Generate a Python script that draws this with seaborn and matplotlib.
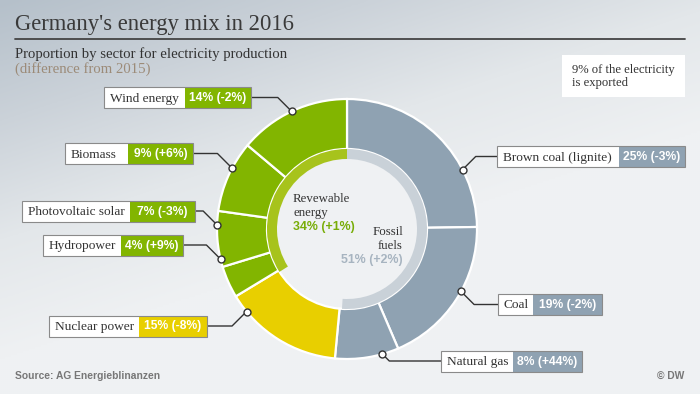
import numpy as np
import matplotlib
matplotlib.use("Agg")
import matplotlib.pyplot as plt
import seaborn as sns
from matplotlib.patches import Rectangle, Circle

# ---------------- data ----------------
sources = ["Brown coal (lignite)", "Coal", "Natural gas", "Nuclear power",
           "Hydropower", "Photovoltaic solar", "Biomass", "Wind energy"]
shares = [25, 19, 8, 15, 4, 7, 9, 14]
changes = [-3, -2, 44, -8, 9, -3, 6, -2]
groups = ["fossil", "fossil", "fossil", "nuclear",
          "renewable", "renewable", "renewable", "renewable"]

group_keys = ["fossil", "nuclear", "renewable"]
group_shares = [51, 15, 34]
group_changes = [2, -8, 1]

# ---------------- style ----------------
sns.set_theme(style="white")
plt.rcParams["font.family"] = ["DejaVu Sans"]

W, H = 700, 394
SERIF = "Liberation Serif"
SANS = "Liberation Sans"

outer_col = {"fossil": "#8fa2b2", "nuclear": "#e8cf00", "renewable": "#82b500"}
inner_col = {"fossil": "#c9d1d8", "nuclear": "none", "renewable": "#a7c31c"}
text_col = {"fossil": "#a7b4c0", "renewable": "#78ad08"}

fig = plt.figure(figsize=(W / 100, H / 100), dpi=100)

# background gradient
ax_bg = fig.add_axes([0, 0, 1, 1])
ax_bg.set_xlim(0, W)
ax_bg.set_ylim(H, 0)
ax_bg.axis("off")
xs = np.linspace(0, W, 350)
ys = np.linspace(0, H, 197)
X, Y = np.meshgrid(xs, ys)
u = np.clip(X / 1100 + Y / 360, 0, 1)
cmap = sns.blend_palette(["#b5c0ca", "#cbd2d9", "#e3e7ea", "#eff1f3"], as_cmap=True)
ax_bg.imshow(u, extent=(0, W, H, 0), cmap=cmap, aspect="auto", interpolation="bilinear")

# ---------------- donut ----------------
cx, cy, R = 347, 229, 130
ax_pie = fig.add_axes([(cx - R) / W, (H - cy - R) / H, 2 * R / W, 2 * R / H])
ax_pie.pie(shares, colors=[outer_col[g] for g in groups], startangle=90,
           counterclock=False, radius=1.0,
           wedgeprops=dict(width=50 / R, edgecolor="white", linewidth=1.6))
ax_pie.pie(group_shares, colors=[inner_col[g] for g in group_keys], startangle=90,
           counterclock=False, radius=80 / R,
           wedgeprops=dict(width=10 / R, linewidth=0))
ax_pie.add_patch(Circle((0, 0), 70 / R, color="#eff1f3", zorder=0))
ax_pie.set_xlim(-1, 1)
ax_pie.set_ylim(-1, 1)
ax_pie.set_aspect("equal")
ax_pie.axis("off")

# ---------------- overlay ----------------
ax = fig.add_axes([0, 0, 1, 1])
ax.set_xlim(0, W)
ax.set_ylim(H, 0)
ax.axis("off")
ax.patch.set_alpha(0)

# title
ax.text(15, 30, "Germany's energy mix in 2016", family=SERIF, fontsize=16.3,
        color="#3a3a3a", va="baseline", ha="left")
ax.plot([15, 685], [39, 39], color="#444444", lw=1.3)
ax.text(15, 58, "Proportion by sector for electricity production", family=SERIF,
        fontsize=10.6, color="#333333", va="baseline")
ax.text(15, 73, "(difference from 2015)", family=SERIF, fontsize=10.6,
        color="#9c8b78", va="baseline")

# export note
ax.add_patch(Rectangle((562, 55), 123, 42, facecolor="white", edgecolor="none"))
ax.text(572, 70, "9% of the electricity", family=SERIF, fontsize=9.1,
        color="#333333", va="center")
ax.text(572, 83, "is exported", family=SERIF, fontsize=9.1,
        color="#333333", va="center")

# centre labels
ax.text(293, 199, "Revewable", family=SERIF, fontsize=9.3, color="#333333", va="center")
ax.text(293, 213, "energy", family=SERIF, fontsize=9.3, color="#333333", va="center")
ax.text(293, 227, f"{group_shares[2]}% ({group_changes[2]:+d}%)", family=SANS,
        fontsize=8.9, weight="bold", color=text_col["renewable"], va="center")
ax.text(403, 232, "Fossil", family=SERIF, fontsize=9.3, color="#333333",
        va="center", ha="right")
ax.text(403, 246, "fuels", family=SERIF, fontsize=9.3, color="#333333",
        va="center", ha="right")
ax.text(403, 260, f"{group_shares[0]}% ({group_changes[0]:+d}%)", family=SANS,
        fontsize=8.9, weight="bold", color=text_col["fossil"], va="center", ha="right")

# label boxes: (left, split, right, y-centre, anchor angle clockwise from top)
layout = {
    "Brown coal (lignite)": (497, 619, 685, 156.5, 62.8),
    "Coal": (498, 533, 602, 304.5, 118.7),
    "Natural gas": (441, 513, 582, 361.0, 164.2),
    "Nuclear power": (49, 139, 207, 326.0, 230.6),
    "Hydropower": (43, 121, 183, 245.0, 256.6),
    "Photovoltaic solar": (22, 130, 195, 211.0, 271.8),
    "Biomass": (65, 128, 193, 153.5, 297.9),
    "Wind energy": (104, 185, 251, 97.5, 334.8),
}

to_ov = ax.transData.inverted()
fig.canvas.draw()
for name, share, chg, grp in zip(sources, shares, changes, groups):
    left, split, right, yc, ang = layout[name]
    h = 21
    ax.add_patch(Rectangle((left, yc - h / 2), split - left, h, facecolor="white",
                           edgecolor="none", zorder=3))
    ax.add_patch(Rectangle((split, yc - h / 2), right - split, h,
                           facecolor=outer_col[grp], edgecolor="none", zorder=3))
    ax.add_patch(Rectangle((left, yc - h / 2), right - left, h, facecolor="none",
                           edgecolor="#8a8a8a", lw=0.8, zorder=4))
    ax.text(left + 6, yc + 1, name, family=SERIF, fontsize=9.6, color="#333333",
            va="center", ha="left", zorder=5)
    ax.text((split + right) / 2, yc + 0.5, f"{share}% ({chg:+d}%)", family=SANS,
            fontsize=8.7, weight="bold", color="white", va="center", ha="center",
            zorder=5)
    # anchor on outer edge of donut
    t = np.deg2rad(ang)
    disp = ax_pie.transData.transform((np.sin(t), np.cos(t)))
    dx, dy = to_ov.transform(disp)
    if left > dx:
        ex = dx + abs(yc - dy)
        bx = left
    else:
        ex = dx - abs(yc - dy)
        bx = right
    ax.plot([dx, ex, bx], [dy, yc, yc], color="#333333", lw=1.0, zorder=2,
            solid_capstyle="butt")
    ax.plot(dx, dy, marker="o", ms=5, mfc="white", mec="#333333", mew=1.0, zorder=6)

# footer
ax.text(15, 376, "Source: AG Energieblinanzen", family=SANS, fontsize=7.4,
        color="#777777", va="center", weight="bold")
ax.text(684, 376, "© DW", family=SANS, fontsize=7.4, color="#777777", va="center",
        ha="right", weight="bold")

fig.savefig("out.png", dpi=100)
